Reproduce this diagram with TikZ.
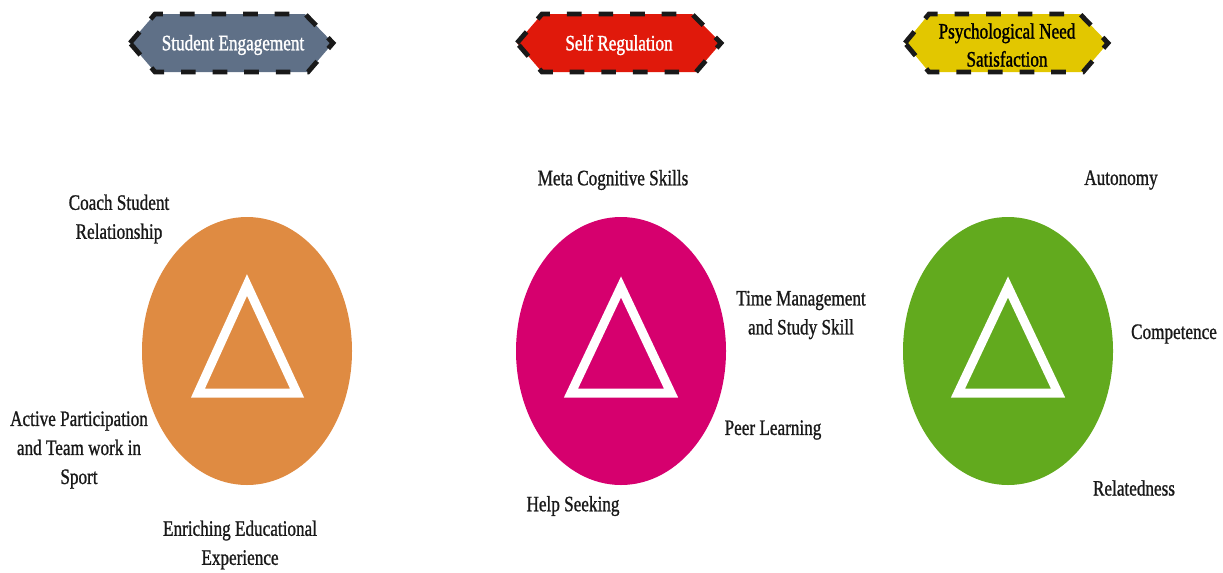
\documentclass[tikz,border=0pt]{standalone}
\usepackage{fontspec}
\setmainfont{Liberation Serif}[FakeStretch=0.78,FakeBold=1]
\newfontfamily\bannerfont{Liberation Serif}[FakeStretch=0.78,FakeBold=1.3]
\usetikzlibrary{shapes.geometric}
\definecolor{segray}{HTML}{5F7087}
\definecolor{srred}{HTML}{E0190B}
\definecolor{psyel}{HTML}{E2C700}
\definecolor{orangeE}{HTML}{DF8B42}
\definecolor{pinkE}{HTML}{D6006E}
\definecolor{greenE}{HTML}{62AA1E}
\tikzset{
  banner/.style={draw=black!90, line width=3.6pt, dash pattern=on 11pt off 12.7pt, line join=miter},
  bannertext/.style={font=\bannerfont\fontsize{16.5}{21}\selectfont, align=center, inner sep=0pt},
  lbl/.style={font=\fontsize{16.5}{21.75}\selectfont, align=center, inner sep=0pt, text=black!90},
  blob/.style={ellipse, minimum width=157.5pt, minimum height=201pt, inner sep=0pt, draw=none},
  tri/.style={draw=white, line width=6.75pt, line join=miter}
}
\begin{document}
\begin{tikzpicture}[x=0.75pt,y=-0.75pt]
\useasboundingbox (0,0) rectangle (1223,572);
% banners
\draw[banner, fill=segray] (130,43) -- (155,14) -- (305,14) -- (333,43) -- (308,72) -- (155,72) -- cycle;
\node[bannertext, text=white] (b1) at (233,45) {Student Engagement};
\draw[banner, fill=srred] (517,43) -- (542,14) -- (692,14) -- (721,43) -- (696,72) -- (542,72) -- cycle;
\node[bannertext, text=white] (b2) at (619,45) {Self Regulation};
\draw[banner, fill=psyel] (905,43) -- (929,14) -- (1080,14) -- (1108,43) -- (1083,72) -- (929,72) -- cycle;
\node[bannertext, text=black] (b3) at (1007,45) {Psychological Need\\Satisfaction};
% ellipses
\node[blob, fill=orangeE] (e1) at (247,351) {};
\node[blob, fill=pinkE] (e2) at (621,351) {};
\node[blob, fill=greenE] (e3) at (1008,351) {};
% triangles
\draw[tri] (247,285) -- (198,393) -- (297,393) -- cycle;
\draw[tri] (621,287) -- (571,393) -- (671,393) -- cycle;
\draw[tri] (1008,287) -- (958,393) -- (1058,393) -- cycle;
% labels
\node[lbl] (l1) at (119,219) {Coach Student\\Relationship};
\node[lbl] (l2) at (79,450) {Active Participation\\and Team work in\\Sport};
\node[lbl] (l3) at (240,545) {Enriching Educational\\Experience};
\node[lbl] (l4) at (613,180) {Meta Cognitive Skills};
\node[lbl] (l5) at (801,315) {Time Management\\and Study Skill};
\node[lbl] (l6) at (773,430) {Peer Learning};
\node[lbl] (l7) at (573,506) {Help Seeking};
\node[lbl] (l8) at (1121,180) {Autonomy};
\node[lbl] (l9) at (1174,334) {Competence};
\node[lbl] (l10) at (1134,488) {Relatedness};
\end{tikzpicture}
\end{document}
